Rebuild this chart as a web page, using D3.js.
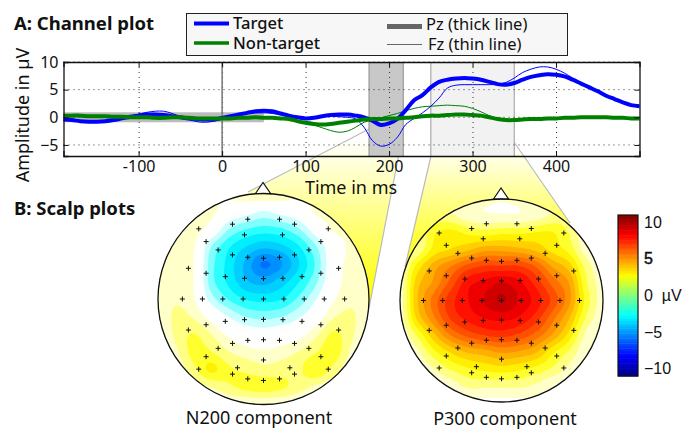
<!DOCTYPE html>
<html>
<head>
<meta charset="utf-8">
<script src="https://cdn.jsdelivr.net/npm/d3@7"></script>
<style>
  body { margin: 0; background: #fff; }
  text { font-family: "Noto Sans", sans-serif; fill: #111; }
</style>
</head>
<body>
<svg id="chart" width="684" height="430" style="display:block"></svg>
<script>
// ---- channel plot data, one value every 10 ms ----
const times = d3.range(-190, 501, 10);

const targetPz = [
  -0.4,-0.5,-0.7,-0.8,-0.8,-0.7,-0.5,-0.2,0.1,0.3,
  0.5,0.5,0.4,0.2,0,-0.2,-0.3,-0.4,-0.4,-0.1,
  0.2,0.5,0.8,1.1,1.2,1.1,0.7,0.3,0,-0.2,
  -0.1,0.2,0.4,0.5,0.5,0.3,0,-0.6,-1.4,-1.1,
  -0.3,1.3,3.1,4,5.4,6.4,6.8,7,7.1,7,
  6.8,6.4,6,5.9,6.2,6.8,7.3,7.6,7.8,7.7,
  7.4,6.8,6.1,5.4,4.7,3.9,3.3,2.7,2.2,2
];
const targetFz = [
  -0.5,-0.5,-0.6,-0.7,-0.7,-0.6,-0.4,-0.1,0.2,0.6,
  0.9,1.1,1.1,0.7,0.1,-0.4,-0.8,-0.9,-0.7,-0.3,
  0.1,0.4,0.7,0.8,0.8,0.7,0.4,0.2,0,-0.1,
  0,0.2,0.2,0.1,0,-0.3,-1.8,-4.2,-5.2,-4.9,
  -3.6,-1.3,-0.2,0.8,2,3.5,5.3,5.8,5.9,5.9,
  5.9,5.9,6,6.3,7.1,8.1,8.7,9.1,9.1,8.7,
  8,7.1,6.2,5.4,4.7,3.9,3.3,2.7,2.2,2
];
const nontargetPz = [
  0.3,0.3,0.3,0.2,0.2,0.2,0.1,0.1,0,0,
  0,-0.1,-0.1,0,0,-0.1,-0.2,-0.2,-0.2,-0.2,
  -0.2,-0.1,-0.1,0,-0.1,-0.1,-0.2,-0.3,-0.7,-1,
  -1.2,-1.3,-1.2,-1,-0.8,-0.6,-0.4,-0.3,-0.3,-0.2,
  -0.2,-0.1,0,0.2,0.3,0.3,0.4,0.5,0.5,0.4,
  0.3,0,-0.3,-0.5,-0.5,-0.4,-0.3,-0.3,-0.2,-0.2,
  -0.1,-0.1,0,0,0,0,-0.1,-0.1,-0.2,-0.2
];
const nontargetFz = [
  0.5,0.4,0.4,0.3,0.3,0.2,0.2,0.1,0.1,0,
  0,0,0,0,-0.1,-0.2,-0.2,-0.3,-0.2,-0.2,
  -0.1,0,0,0,0,-0.1,-0.2,-0.4,-0.7,-1,
  -1.4,-1.9,-2.4,-2.7,-2.5,-1.8,-0.9,-0.5,-0.1,0.3,
  0.7,1.2,1.6,1.9,2,2.1,2.2,2.1,2,1.6,
  1,0.3,-0.2,-0.6,-0.6,-0.4,-0.3,-0.2,-0.2,-0.2,
  -0.1,-0.1,0,0,0,0,-0.1,-0.1,-0.2,-0.2
];

const timeTicks = [-100, 0, 100, 200, 300, 400];
const ampTicks = [-5, 0, 5, 10];
const baseline = [-190, 50];
const baselineAmp = [-0.9, 0.9];
const n200Window = [176, 217];
const p300Window = [250, 350];

// ---- scalp plot data, electrode positions in head units (nose up) ----
const elecX = [-0.149,0.152,-0.294,0.294,-0.614,0.614,-0.18,0.18,-0.544,0.544,-0.43,0.43,-0.294,-0.149,0,0.152,0.294,
  -0.712,0.712,-0.544,0.544,-0.362,0.365,-0.18,0,0.184,-0.769,-0.579,-0.386,-0.193,0,0.193,0.386,0.576,0.769,
  -0.544,0.544,-0.362,0.365,-0.18,0,0.184,-0.712,0.712,-0.294,-0.149,0,0.152,0.294,-0.43,0.43,-0.544,0.544,0,
  -0.614,0.614,-0.247,0.25,-0.294,0.294,-0.149,0,0.152];
const elecY = [-0.756,-0.756,-0.709,-0.709,-0.665,-0.665,-0.608,-0.608,-0.544,-0.544,-0.465,-0.465,-0.418,-0.396,-0.386,-0.396,-0.418,
  -0.291,-0.291,-0.244,-0.244,-0.212,-0.212,-0.196,-0.193,-0.196,0,0,0,0,0,0,0,0,0,
  0.244,0.244,0.212,0.212,0.196,0.193,0.196,0.294,0.294,0.421,0.392,0.386,0.392,0.421,0.468,0.468,0.547,0.547,0.578,
  0.665,0.665,0.652,0.652,0.712,0.712,0.757,0.772,0.757];

// rough field values, 13 x 13 grid over [-1,1] x [-1,1]
const n200Grid = [
  [0.4,0.4,0.5,0.6,0.8,1.2,1.5,1.2,0.8,0.6,0.5,0.4,0.4],
  [0.4,0.6,0.9,0.9,0.2,-0.2,-0.7,-0.3,0.1,0.8,0.9,0.6,0.4],
  [0.6,0.9,1,0.3,-1.3,-2,-2.3,-2.1,-1.4,-0.1,0.8,0.8,0.5],
  [0.8,1,0.8,-1.3,-2.6,-3.4,-3.9,-3.6,-2.8,-1.4,0.1,0.8,0.6],
  [0.8,1.2,0.7,-1.7,-3,-4.3,-5.6,-4.9,-3.5,-1.9,0.1,0.9,0.6],
  [0.8,1.2,0.7,-1.7,-2.9,-4,-4.4,-3.8,-2.8,-1.5,0.2,1,0.7],
  [0.8,1.3,0.8,-1,-2.1,-2.8,-3,-2.8,-1.9,-0.7,0.6,1.2,0.8],
  [0.8,1.5,1.3,0.3,-0.7,-1.4,-1.6,-1.4,-0.8,0.1,1.3,1.5,0.8],
  [0.7,1.5,2.1,1.4,0.5,0,-0.2,0,0.3,1.2,2.2,1.5,0.7],
  [0.6,1.2,2.3,2.1,1.4,1,0.8,1,1.4,2,2.5,1.2,0.6],
  [0.4,0.8,1.8,2.9,2.2,1.9,1.6,1.7,1.9,2.7,1.8,0.8,0.4],
  [0.4,0.5,0.9,1.4,1.9,2.3,2.4,2.2,1.7,1.2,0.8,0.5,0.4],
  [0.4,0.4,0.4,0.5,0.6,0.7,0.8,0.7,0.6,0.5,0.4,0.4,0.4]
];
const p300Grid = [
  [0.5,0.5,0.6,0.8,1,0.8,0.7,0.8,1,0.8,0.6,0.5,0.5],
  [0.5,0.5,1.5,1.5,1,0.8,0.8,0.8,1,1.5,1.5,0.5,0.5],
  [0.6,1,2.6,3,2.6,2.4,2.6,2.6,2.8,2.8,2,0.8,0.5],
  [0.8,1.5,3,3.5,4,4.6,4.6,4.4,4,3.2,2.5,1,0.6],
  [1,3,4.5,5.5,6.5,7,7,7,6.2,4.8,3.8,1.8,0.8],
  [1,3.8,5,6.5,8,8.5,9,8.5,7.4,6,4.8,2.2,1],
  [1,4,5.8,7.3,8.2,9,9.7,8.9,8,6.7,5,2.5,1],
  [1,3.6,5.4,7,7.8,8.3,8.5,8.2,7.3,5.8,4.2,2,0.9],
  [0.8,2.2,4,5.6,6.5,7,7.2,6.8,6,4.8,3.2,1.2,0.7],
  [0.6,1.2,2.6,3.6,4.3,4.6,5,4.8,4.3,3,2,0.8,0.5],
  [0.5,0.7,1.4,2.2,2.7,3,3.2,3,2.6,2,1.2,0.6,0.5],
  [0.5,0.5,0.7,1,1.6,1.6,1.6,1.6,1.3,0.8,0.6,0.5,0.5],
  [0.5,0.5,0.5,0.5,0.5,0.5,0.5,0.5,0.5,0.5,0.5,0.5,0.5]
];
const cbarTicks = [10, 5, 0, -5, -10];

const svg = d3.select("#chart");
const defs = svg.append("defs");

const x = d3.scaleLinear().domain([-190, 500]).range([63.5, 639.5]);
const y = d3.scaleLinear().domain([-7, 10]).range([156, 62]);

// jet colormap running over the colorbar range
const jetStops = ["#000080", "#0000ff", "#00ffff", "#ffff00", "#ff0000", "#800000"];
const jet = d3.scaleLinear()
    .domain([-11, -8.25, -2.75, 2.75, 8.25, 11])
    .range(jetStops)
    .interpolate(d3.interpolateRgb);

// same thing on the maps, but the part around zero fades out to white
function mapColor(v) {
  const fade = Math.pow(Math.max(0, Math.abs(v) - 0.3) / 2.45, 1.3);
  if (v > 0 && v < 2.75) return d3.interpolateRgb("#ffffff", "#ffff00")(fade);
  if (v <= 0 && v > -2.75) return d3.interpolateRgb("#ffffff", "#00ffff")(fade);
  return jet(v);
}

// ---- zoom wedges, under everything else ----
function wedge(id, pts, y1, y2) {
  const g = defs.append("linearGradient").attr("id", id)
      .attr("gradientUnits", "userSpaceOnUse")
      .attr("x1", 0).attr("x2", 0).attr("y1", y1).attr("y2", y2);
  g.append("stop").attr("offset", 0).attr("stop-color", "#fff");
  g.append("stop").attr("offset", 1).attr("stop-color", "#ffff00");
  svg.append("polygon")
      .attr("points", pts.join(" "))
      .attr("fill", `url(#${id})`);
  // only the two slanted sides have an outline
  [[pts[0], pts[3]], [pts[1], pts[2]]].forEach(s => {
    svg.append("line")
        .attr("x1", s[0][0]).attr("y1", s[0][1]).attr("x2", s[1][0]).attr("y2", s[1][1])
        .attr("stroke", "#bbb").attr("stroke-width", 1.2);
  });
}
wedge("w1", [[369, 129], [403, 133], [369, 308], [248, 192]], 140, 300);
wedge("w2", [[431, 156], [514, 142], [570, 223], [405, 267]], 145, 265);

// ---- channel plot ----
function band(range, fill, edge) {
  svg.append("rect")
      .attr("x", x(range[0])).attr("y", y(10))
      .attr("width", x(range[1]) - x(range[0])).attr("height", y(-7) - y(10))
      .attr("fill", fill);
  range.forEach(t => {
    svg.append("line")
        .attr("x1", x(t)).attr("x2", x(t)).attr("y1", y(10)).attr("y2", y(-7))
        .attr("stroke", edge).attr("stroke-width", 1.2);
  });
}
band(n200Window, "#c8c8c8", "#999");
band(p300Window, "#f2f2f2", "#aaa");

svg.append("rect")
    .attr("x", x(baseline[0])).attr("y", y(baselineAmp[1]))
    .attr("width", x(baseline[1]) - x(baseline[0]))
    .attr("height", y(baselineAmp[0]) - y(baselineAmp[1]))
    .attr("fill", "#bbb");

const grid = svg.append("g").attr("stroke", "#333").attr("stroke-width", 1).attr("stroke-dasharray", "1,4");
timeTicks.forEach(t => grid.append("line").attr("x1", x(t) + 0.5).attr("x2", x(t) + 0.5).attr("y1", y(10)).attr("y2", y(-7)));
ampTicks.forEach(a => grid.append("line").attr("x1", x(-190)).attr("x2", x(500)).attr("y1", y(a)).attr("y2", y(a)));

svg.append("line")
    .attr("x1", x(0)).attr("x2", x(0)).attr("y1", y(10)).attr("y2", y(-7))
    .attr("stroke", "#777").attr("stroke-width", 1.5);

const line = d3.line().x((d, i) => x(times[i])).y(d => y(d)).curve(d3.curveCatmullRom);

[[nontargetFz, "#008000", 1], [targetFz, "#0000ff", 1], [targetPz, "#0000ff", 4], [nontargetPz, "#008000", 4]].forEach(s => {
  svg.append("path")
      .attr("d", line(s[0]))
      .attr("fill", "none")
      .attr("stroke", s[1])
      .attr("stroke-width", s[2]);
});

const axB = svg.append("g").attr("transform", `translate(0,${y(-7)})`)
    .call(d3.axisBottom(x).tickValues(timeTicks).tickSize(-5).tickPadding(5).tickFormat(d => String(d)));
const axL = svg.append("g").attr("transform", `translate(${x(-190)},0)`)
    .call(d3.axisLeft(y).tickValues(ampTicks).tickSize(-5).tickPadding(5).tickFormat(d => d < 0 ? "\u2212" + (-d) : d));
const axR = svg.append("g").attr("transform", `translate(${x(500)},0)`)
    .call(d3.axisRight(y).tickValues(ampTicks).tickSize(-5).tickFormat(""));
const axT = svg.append("g").attr("transform", `translate(0,${y(10)})`)
    .call(d3.axisTop(x).tickValues(timeTicks).tickSize(-5).tickFormat(""));
[axB, axL, axR, axT].forEach(a => {
  a.selectAll("text").style("font-size", "16px");
  a.select(".domain").attr("stroke", "#111").attr("stroke-width", 1.3);
  a.selectAll(".tick line").attr("stroke", "#111");
});

svg.append("text").attr("x", 351).attr("y", 193.5).attr("text-anchor", "middle").style("font-size", "18px").text("Time in ms");
svg.append("text").attr("transform", "translate(29,115) rotate(-90)").attr("text-anchor", "middle").style("font-size", "18px").text("Amplitude in \u00b5V");
svg.append("text").attr("x", 14).attr("y", 30).style("font-size", "18.5px").style("font-weight", "bold").text("A: Channel plot");
svg.append("text").attr("x", 14).attr("y", 215).style("font-size", "18.5px").style("font-weight", "bold").text("B: Scalp plots");

// ---- legend ----
svg.append("rect").attr("x", 186.5).attr("y", 13.5).attr("width", 381).attr("height", 42)
    .attr("fill", "#f7f7f7").attr("stroke", "#222").attr("stroke-width", 1);
const legendRows = [
  ["Target", "#0000ff", 4, 194, 233, 23.5, 29],
  ["Non-target", "#008000", 3.5, 194, 233, 43, 48.5],
  ["Pz (thick line)", "#666", 5, 387, 426, 26.5, 30],
  ["Fz (thin line)", "#666", 1, 387, 428, 44.5, 50]
];
legendRows.forEach((r, i) => {
  svg.append("line").attr("x1", r[3]).attr("x2", r[3] + 35).attr("y1", r[5]).attr("y2", r[5])
      .attr("stroke", r[1]).attr("stroke-width", r[2]);
  svg.append("text").attr("x", r[4]).attr("y", r[6]).style("font-size", "16.5px")
      .style("font-weight", i < 2 ? "500" : "normal").text(r[0]);
});

// ---- scalp maps ----
const N = 131;
function catmull(p0, p1, p2, p3, t) {
  return 0.5 * (2 * p1 + (p2 - p0) * t + (2 * p0 - 5 * p1 + 4 * p2 - p3) * t * t + (3 * p1 - p0 - 3 * p2 + p3) * t * t * t);
}
function upsample(g) {
  const out = new Float64Array(N * N);
  const m = g.length - 1;
  const at = (r, c) => g[Math.min(m, Math.max(0, r))][Math.min(m, Math.max(0, c))];
  for (let j = 0; j < N; j++) {
    const fy = j / (N - 1) * m, r = Math.min(m - 1, Math.floor(fy)), ty = fy - r;
    for (let i = 0; i < N; i++) {
      const fx = i / (N - 1) * m, c = Math.min(m - 1, Math.floor(fx)), tx = fx - c;
      const rows = [-1, 0, 1, 2].map(dr => catmull(at(r + dr, c - 1), at(r + dr, c), at(r + dr, c + 1), at(r + dr, c + 2), tx));
      out[j * N + i] = catmull(rows[0], rows[1], rows[2], rows[3], ty);
    }
  }
  return out;
}

function scalp(id, gridValues, cx, cy, r, nose) {
  const sx = d3.scaleLinear().domain([-1, 1]).range([cx - r, cx + r]);
  const sy = d3.scaleLinear().domain([-1, 1]).range([cy - r, cy + r]);

  defs.append("clipPath").attr("id", id).append("circle").attr("cx", cx).attr("cy", cy).attr("r", r);
  svg.append("circle").attr("cx", cx).attr("cy", cy).attr("r", r).attr("fill", "#fff");

  const values = upsample(gridValues);
  const thresholds = d3.range(-11, 11.01, 0.6875);
  const contours = d3.contours().size([N, N]).thresholds(thresholds)(values);
  const k = 2 * r / (N - 1);
  const path = d3.geoPath(d3.geoTransform({
    point(px, py) { this.stream.point(cx - r + (px - 0.5) * k, cy - r + (py - 0.5) * k); }
  }));

  svg.append("g").attr("clip-path", `url(#${id})`)
    .selectAll("path")
    .data(contours)
    .join("path")
      .attr("d", path)
      .attr("fill", d => mapColor(d.value + 0.34));

  svg.append("polygon")
      .attr("points", [[nose - 7.5, cy - r], [nose, cy - r - 11], [nose + 7.5, cy - r]].join(" "))
      .attr("fill", "#fff").attr("stroke", "#111").attr("stroke-width", 1.2);
  svg.append("circle").attr("cx", cx).attr("cy", cy).attr("r", r)
      .attr("fill", "none").attr("stroke", "#111").attr("stroke-width", 1.3);

  svg.append("g").attr("stroke", "#111").attr("stroke-width", 1)
    .selectAll("path")
    .data(elecX)
    .join("path")
      .attr("d", (d, i) => {
        const px = sx(d), py = sy(elecY[i]);
        return `M${px - 2.5},${py}H${px + 2.5}M${px},${py - 2.5}V${py + 2.5}`;
      });
}
scalp("c1", n200Grid, 263.5, 299, 105.5, 263);
scalp("c2", p300Grid, 501.5, 300.5, 101.5, 501);

svg.append("text").attr("x", 259).attr("y", 424).attr("text-anchor", "middle").style("font-size", "18px").text("N200 component");
svg.append("text").attr("x", 505).attr("y", 425).attr("text-anchor", "middle").style("font-size", "18px").text("P300 component");

// ---- colorbar ----
const cy = d3.scaleLinear().domain([-11, 11]).range([376, 215]);
svg.append("g").selectAll("rect")
  .data(d3.range(-11, 11, 22 / 64))
  .join("rect")
    .attr("x", 618).attr("width", 20)
    .attr("y", d => cy(d + 22 / 64))
    .attr("height", cy(0) - cy(22 / 64) + 0.5)
    .attr("fill", d => jet(d + 11 / 64));
svg.append("rect").attr("x", 618).attr("y", 215).attr("width", 20).attr("height", 161)
    .attr("fill", "none").attr("stroke", "#111").attr("stroke-width", 1.2);
cbarTicks.forEach(t => {
  svg.append("text").attr("x", 644).attr("y", cy(t) + 5.5)
      .style("font-family", "'Liberation Sans', sans-serif").style("font-size", "16px")
      .style("stroke", t === 5 ? "#111" : "none").style("stroke-width", 0.5)
      .style("white-space", "pre")
      .text(t < 0 ? "\u2212" + (-t) : t === 0 ? "0  \u00b5V" : t);
});
</script>
</body>
</html>
